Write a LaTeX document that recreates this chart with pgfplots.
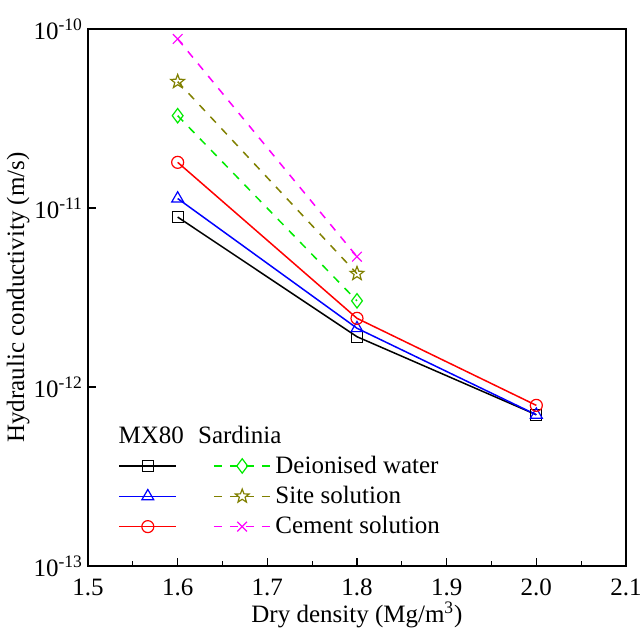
\documentclass[border=0pt]{standalone}
\usepackage{fontspec}
\setmainfont{Liberation Serif}
\usepackage{pgfplots}
\pgfplotsset{compat=1.18}
\definecolor{olivec}{RGB}{128,128,0}
\definecolor{greenc}{RGB}{0,235,0}
\definecolor{magc}{RGB}{255,0,255}
\pgfdeclareplotmark{ostar}{%
  \pgfpathmoveto{\pgfpointpolar{90}{\pgfplotmarksize}}%
  \pgfpathlineto{\pgfpointpolar{126}{0.42\pgfplotmarksize}}%
  \pgfpathlineto{\pgfpointpolar{162}{\pgfplotmarksize}}%
  \pgfpathlineto{\pgfpointpolar{198}{0.42\pgfplotmarksize}}%
  \pgfpathlineto{\pgfpointpolar{234}{\pgfplotmarksize}}%
  \pgfpathlineto{\pgfpointpolar{270}{0.42\pgfplotmarksize}}%
  \pgfpathlineto{\pgfpointpolar{306}{\pgfplotmarksize}}%
  \pgfpathlineto{\pgfpointpolar{342}{0.42\pgfplotmarksize}}%
  \pgfpathlineto{\pgfpointpolar{18}{\pgfplotmarksize}}%
  \pgfpathlineto{\pgfpointpolar{54}{0.42\pgfplotmarksize}}%
  \pgfpathclose\pgfusepathqstroke}
\newcommand{\fs}{\fontsize{12.5}{15}\selectfont}
\begin{document}
\begin{tikzpicture}
\begin{axis}[
  scale only axis, width=269pt, height=268.5pt,
  xmin=1.5, xmax=2.1, ymode=log, ymin=1e-13, ymax=1e-10,
  xtick={1.5,1.6,1.7,1.8,1.9,2.0,2.1},
  xticklabels={1.5,1.6,1.7,1.8,1.9,2.0,2.1},
  minor x tick num=1,
  ytick={1e-13,1e-12,1e-11,1e-10},
  yticklabels={10\textsuperscript{-13},10\textsuperscript{-12},10\textsuperscript{-11},10\textsuperscript{-10}},
  yminorticks=false,
  tick align=inside, xtick pos=bottom, ytick pos=left,
  major tick length=4pt, minor tick length=2.5pt,
  tick style={black, line width=0.6pt},
  axis line style={line width=0.8pt},
  /pgf/number format/assume math mode=true,
  tick label style={font=\fs},
  label style={font=\fs},
  xticklabel style={yshift=-3pt},
  yticklabel style={xshift=1pt},
  xlabel={Dry density (Mg/m\textsuperscript{3})},
  ylabel={Hydraulic conductivity (m/s)},
  xlabel style={yshift=4pt},
  ylabel style={at={(axis description cs:-0.13,0.5)}, anchor=center},
  legend columns=2,
  legend cell align=left,
  legend image code/.code={\draw[mark repeat=2,mark phase=2] plot coordinates {(0cm,0cm) (0.5cm,0cm) (1cm,0cm)};},
  legend style={draw=none, fill=none, font=\fs, at={(0.045,0.221)}, anchor=north west,
    row sep=1pt, nodes={inner xsep=2pt}, /tikz/every even column/.append style={column sep=14pt}},
]
% MX80 black
\addplot[black, line width=0.75pt, mark=square, mark size=2.75pt, mark options={solid, line width=0.5pt}]
  coordinates {(1.6,8.9e-12) (1.8,1.91e-12) (2.0,7.0e-13)};
\addlegendentry{\mbox{}}
% Sardinia deionised
\addplot[greenc, line width=0.75pt, dash pattern=on 4pt off 4pt, mark=diamond, mark size=3.6pt, mark options={solid, line width=0.6pt}]
  coordinates {(1.6,3.28e-11) (1.8,3.03e-12)};
\addlegendentry{Deionised water}
% MX80 blue
\addplot[blue, line width=0.75pt, mark=triangle, mark size=3.4pt, mark options={solid, line width=0.6pt}]
  coordinates {(1.6,1.13e-11) (1.8,2.13e-12) (2.0,7.0e-13)};
\addlegendentry{\mbox{}}
% Sardinia site
\addplot[olivec, line width=0.75pt, dash pattern=on 4pt off 4pt, mark=ostar, mark size=3.6pt, mark options={solid, line width=0.6pt}]
  coordinates {(1.6,5.08e-11) (1.8,4.3e-12)};
\addlegendentry{Site solution}
% MX80 red
\addplot[red, line width=0.75pt, mark=o, mark size=3pt, mark options={solid, line width=0.6pt}]
  coordinates {(1.6,1.8e-11) (1.8,2.42e-12) (2.0,7.9e-13)};
\addlegendentry{\mbox{}}
% Sardinia cement
\addplot[magc, line width=0.75pt, dash pattern=on 4pt off 4pt, mark=x, mark size=3.4pt, mark options={solid, line width=0.6pt}]
  coordinates {(1.6,8.8e-11) (1.8,5.35e-12)};
\addlegendentry{Cement solution}
\node[anchor=base west, font=\fs, inner sep=0pt] at (axis description cs:0.056,0.229) {MX80};
\node[anchor=base west, font=\fs, inner sep=0pt] at (axis description cs:0.204,0.229) {Sardinia};
\end{axis}
\pgfresetboundingbox
\path ([shift={(-44pt,-34.5pt)}]current axis.south west) rectangle ([shift={(7pt,14.5pt)}]current axis.north east);
\end{tikzpicture}
\end{document}
